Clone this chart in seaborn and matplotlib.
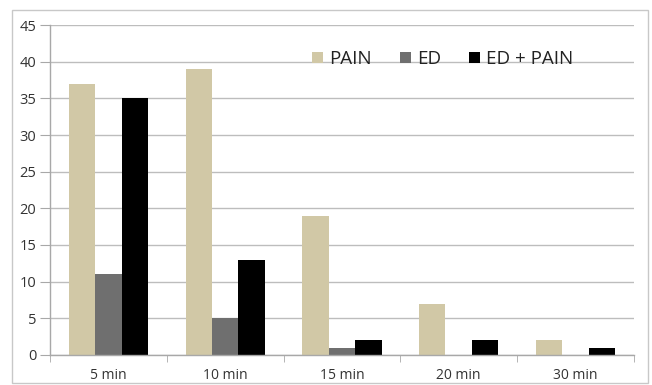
import matplotlib
matplotlib.use("Agg")
import matplotlib.pyplot as plt
from matplotlib.patches import Rectangle
import pandas as pd
import seaborn as sns

categories = ["5 min", "10 min", "15 min", "20 min", "30 min"]
pain = [37, 39, 19, 7, 2]
ed = [11, 5, 1, 0, 0]
ed_pain = [35, 13, 2, 2, 1]
series_names = ["PAIN", "ED", "ED + PAIN"]
colors = ["#d1c8a6", "#6f6f6f", "#000000"]

df = pd.DataFrame({
    "time": categories * 3,
    "series": [s for s in series_names for _ in categories],
    "value": pain + ed + ed_pain,
})

sns.set_style("white")
plt.rcParams["font.family"] = ["Open Sans", "DejaVu Sans"]

fig = plt.figure(figsize=(6.52, 3.85), dpi=100)
ax = fig.add_axes([0.077, 0.078, 0.895, 0.857])

sns.barplot(data=df, x="time", y="value", hue="series", order=categories,
            hue_order=series_names, palette=colors, width=0.68,
            saturation=1, linewidth=0, edgecolor="none", ax=ax, legend=True)

ax.set_ylim(0, 45)
ax.set_yticks(range(0, 46, 5))
ax.set_xlim(-0.5, len(categories) - 0.5)
ax.yaxis.grid(True, color="#bdbdbd", linewidth=1)
ax.set_axisbelow(True)
ax.set_xlabel("")
ax.set_ylabel("")

for side in ["top", "right"]:
    ax.spines[side].set_visible(False)
for side in ["left", "bottom"]:
    ax.spines[side].set_color("#a8a8a8")
    ax.spines[side].set_linewidth(1)

ax.tick_params(axis="y", left=True, length=7, color="#a8a8a8", labelsize=10.5,
               labelcolor="#333333", pad=3)
ax.tick_params(axis="x", bottom=False, labelsize=10, labelcolor="#333333", pad=6)
# separator ticks between the categories
ax.set_xticks([i + 0.5 for i in range(-1, len(categories))], minor=True)
ax.tick_params(axis="x", which="minor", bottom=True, length=5, color="#a8a8a8")

handles, labels = ax.get_legend_handles_labels()
ax.legend(handles, labels, loc="upper left", bbox_to_anchor=(0.42, 0.975),
          ncol=3, frameon=False, fontsize=13.5, handlelength=0.6,
          handleheight=0.6, handletextpad=0.3, columnspacing=1.5,
          labelcolor="#222222")

fig.patches.append(Rectangle((12 / 652, 2 / 385), 636 / 652, 373 / 385,
                             transform=fig.transFigure, fill=False,
                             edgecolor="#c8c8c8", linewidth=1))

fig.savefig("out.png", dpi=100)
